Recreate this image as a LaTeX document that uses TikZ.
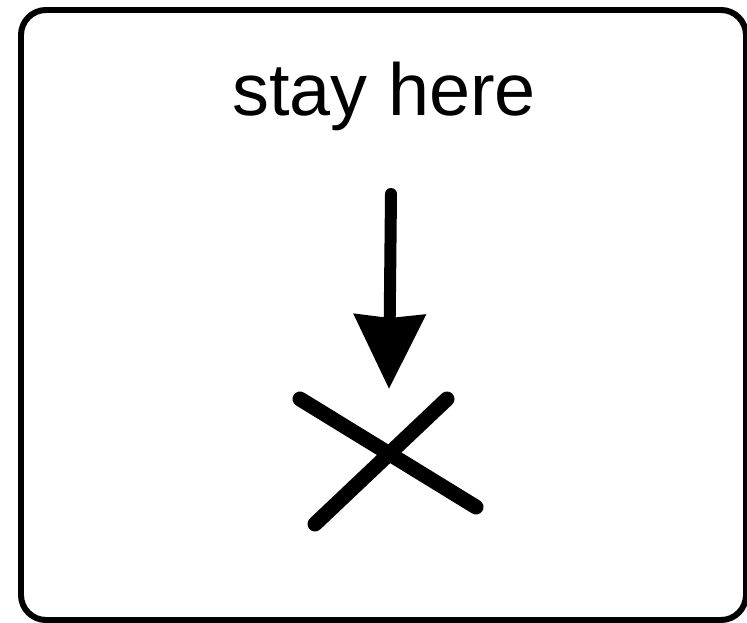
\documentclass[tikz,border=0pt]{standalone}
\usepackage{fontspec}
\setmainfont{Liberation Sans}
\usetikzlibrary{arrows.meta,positioning}
\begin{document}
\begin{tikzpicture}[x=0.02cm,y=-0.02cm,
  board/.style={draw=black,line width=0.12cm,rounded corners=0.5cm},
  sign/.style={font=\fontsize{42pt}{50pt}\selectfont,inner sep=0pt,anchor=base},
  arrow/.style={-{Stealth[length=1.48cm,width=1.4cm,inset=0.06cm]},line width=0.24cm,line cap=round},
  cross/.style={line width=0.3cm,line cap=round}
]
  \useasboundingbox (0,0) rectangle (747,622);
  \draw[board] (21,10) rectangle (746,620);
  \node[sign] (msg) at (384,115) {stay here};
  \coordinate (top) at (391,194);
  \coordinate (spot) at (389,389);
  \draw[arrow] (top) -- (spot);
  % the X mark
  \coordinate (xa) at (300,399);
  \coordinate (xb) at (476,507);
  \coordinate (xc) at (447,399);
  \coordinate (xd) at (315,524);
  \draw[cross] (xa) -- (xb);
  \draw[cross] (xc) -- (xd);
\end{tikzpicture}
\end{document}
